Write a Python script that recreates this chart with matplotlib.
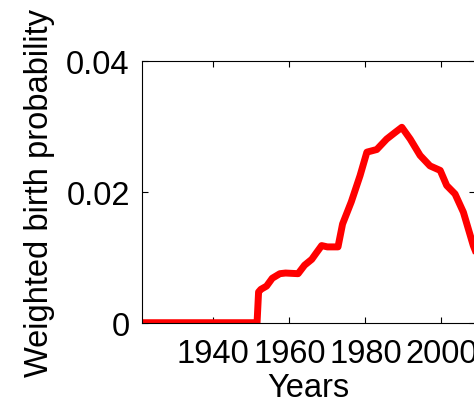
import numpy as np
import matplotlib.pyplot as plt

plt.rcParams['font.family'] = ['Liberation Sans', 'DejaVu Sans']

# values (the reference is cut at the right near 2008)
years = [1921, 1951.5, 1951.9, 1952.5, 1954, 1955.5, 1957.5, 1959, 1962.3, 1964,
         1965.9, 1967, 1968.5, 1970, 1972.8, 1974, 1976.3, 1978.6, 1980.4, 1983,
         1985.6, 1987.8, 1989.6, 1991.8, 1994.4, 1997, 1999.7, 2001.4, 2003.6,
         2005.8, 2008.4, 2011]
birth_prob = [0.0, 0.0, 0.0047, 0.0051, 0.0056, 0.0068, 0.0075, 0.0076, 0.0075, 0.0088,
              0.0097, 0.0106, 0.0118, 0.0116, 0.0116, 0.0151, 0.0185, 0.0225, 0.0261, 0.0265,
              0.0281, 0.0291, 0.0299, 0.0281, 0.0256, 0.0240, 0.0233, 0.0210, 0.0197,
              0.0169, 0.0118, 0.0080]

xticks = [1940, 1960, 1980, 2000]
yticks = [0, 0.02, 0.04]
ytick_labels = ['0', '0.02', '0.04']

fig = plt.figure(figsize=(4.74, 4.06), dpi=100)
# axes ends at the right edge of the picture, as in the cropped original
ax = fig.add_axes([142.3 / 474, 1 - 323.7 / 406, 332.5 / 474, 261.4 / 406])
ax.plot(years, birth_prob, color='red', linewidth=5, solid_joinstyle='round')
ax.set_xlim(1921.3, 2008.8)
ax.set_ylim(0, 0.04)
ax.set_xticks(xticks)
ax.set_yticks(yticks)
ax.set_yticklabels(ytick_labels)
ax.tick_params(direction='in', top=True, right=True, labelsize=23.5, length=4, width=0.8)
ax.tick_params(axis='x', pad=11)
ax.tick_params(axis='y', pad=9)
for s in ax.spines.values():
    s.set_linewidth(0.8)
ax.set_xlabel('Years', fontsize=23.5, labelpad=2)
ax.set_ylabel('Weighted birth probability', fontsize=23.5, labelpad=8)

fig.savefig('out.png', dpi=100)
